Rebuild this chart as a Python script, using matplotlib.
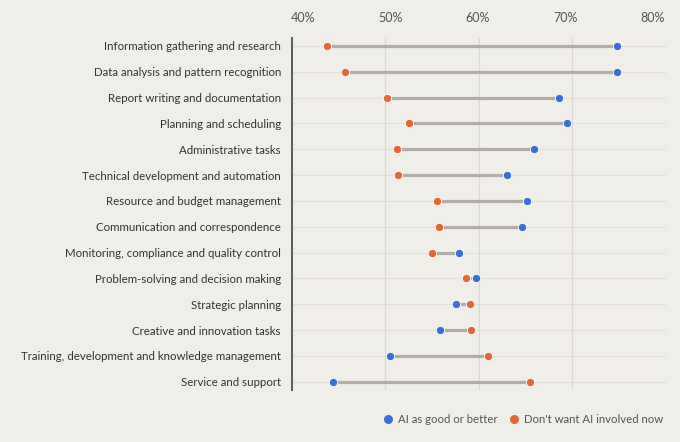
import matplotlib
matplotlib.use('Agg')
import matplotlib.pyplot as plt
import matplotlib.transforms as mtransforms
from matplotlib.lines import Line2D

tasks = [
    'Information gathering and research',
    'Data analysis and pattern recognition',
    'Report writing and documentation',
    'Planning and scheduling',
    'Administrative tasks',
    'Technical development and automation',
    'Resource and budget management',
    'Communication and correspondence',
    'Monitoring, compliance and quality control',
    'Problem-solving and decision making',
    'Strategic planning',
    'Creative and innovation tasks',
    'Training, development and knowledge management',
    'Service and support',
]
ai_good = [74.8, 74.8, 68.6, 69.4, 65.9, 63.0, 65.1, 64.6, 57.9, 59.7, 57.6, 55.8, 50.5, 44.4]
dont_want = [43.7, 45.7, 50.2, 52.5, 51.2, 51.3, 55.5, 55.7, 55.0, 58.6, 59.1, 59.2, 61.0, 65.5]
ticks = [40, 50, 60, 70, 80]

bg = '#f0eee9'
blue = '#3b6fd4'
orange = '#e0693a'
txt = '#333333'

plt.rcParams['font.family'] = ['Lato', 'DejaVu Sans']

fig = plt.figure(figsize=(6.8, 4.42), dpi=100, facecolor=bg)
ax = fig.add_axes([0.4294, 0.1176, 0.5496, 0.7971], facecolor=bg)

y = list(range(len(tasks)))
for i in y:
    ax.axhline(i, color='#e2dfd9', lw=0.8, zorder=0)
    ax.plot([ai_good[i], dont_want[i]], [i, i], color='#b1aea7', lw=2.3,
            solid_capstyle='butt', zorder=2)
ax.scatter(ai_good, y, s=36, color=blue, edgecolor='white', linewidth=0.6, zorder=3)
ax.scatter(dont_want, y, s=36, color=orange, edgecolor='white', linewidth=0.6, zorder=3)

ax.set_xlim(40, 80)
ax.set_ylim(len(tasks) - 1 + 0.32, -0.32)
ax.set_xticks(ticks)
ax.set_xticklabels(['%d%%' % t for t in ticks], color='#555555', fontsize=9)
ax.xaxis.tick_top()
ax.tick_params(axis='x', length=0, pad=10)
ax.tick_params(axis='y', length=0, pad=8)
ax.set_yticks(y)
ax.set_yticklabels(tasks, color=txt, fontsize=8.3)
for t in ticks[1:]:
    ax.axvline(t, color='#dcd9d3', lw=0.8, zorder=1)

# top labels sit slightly inward of their gridlines in the original
shifts = [11.5, 5.3, -1.0, -6.5, -13.5]
for lab, dx in zip(ax.get_xticklabels(), shifts):
    lab.set_transform(lab.get_transform() +
                      mtransforms.ScaledTranslation(dx / 100, 0, fig.dpi_scale_trans))

for s in ['top', 'right', 'bottom']:
    ax.spines[s].set_visible(False)
ax.spines['left'].set_color('#5a5a5a')
ax.spines['left'].set_linewidth(1.4)

handles = [
    Line2D([], [], marker='o', ls='', color=blue, markersize=5.5, label='AI as good or better'),
    Line2D([], [], marker='o', ls='', color=orange, markersize=5.5, label="Don't want AI involved now"),
]
leg = fig.legend(handles=handles, loc='center right', bbox_to_anchor=(0.99, 0.052),
                 ncol=2, frameon=False, fontsize=8.2, handletextpad=0.3,
                 columnspacing=0.8, handlelength=1.2)
for t in leg.get_texts():
    t.set_color('#555555')

fig.savefig('out.png', dpi=100, facecolor=bg)
